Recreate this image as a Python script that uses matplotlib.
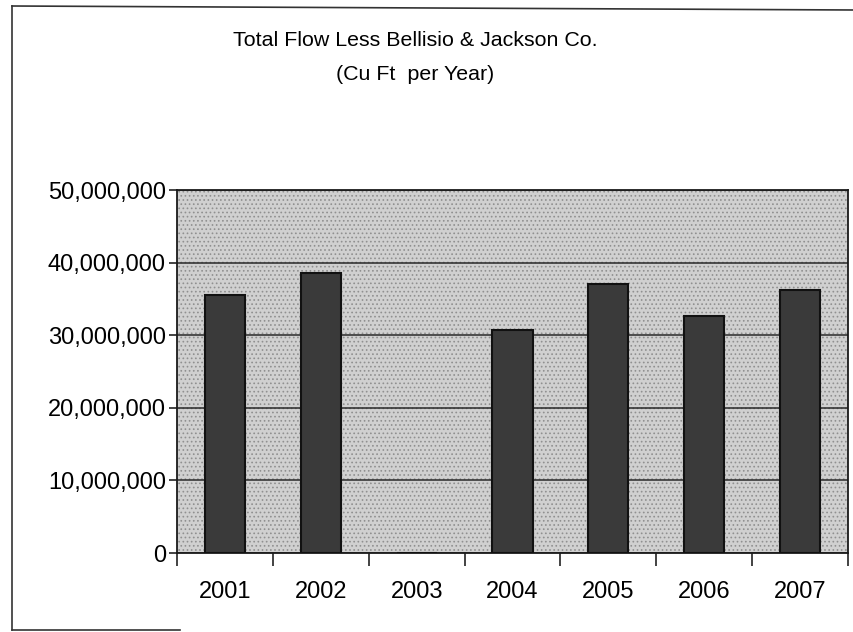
import matplotlib
matplotlib.use("Agg")
import matplotlib.pyplot as plt
from matplotlib.ticker import FuncFormatter
from matplotlib.lines import Line2D
import numpy as np

years = ["2001", "2002", "2003", "2004", "2005", "2006", "2007"]
flow = [35500000, 38600000, 0, 30700000, 37000000, 32600000, 36200000]
yticks = [0, 10000000, 20000000, 30000000, 40000000, 50000000]

plt.rcParams['font.family'] = ['Liberation Sans', 'DejaVu Sans']
plt.rcParams['hatch.color'] = '#808080'
plt.rcParams['hatch.linewidth'] = 0.7

fig = plt.figure(figsize=(8.54, 6.32), dpi=100)
ax = fig.add_axes([177/854, 1-553/632, 671/854, 363/632])

ax.set_facecolor('#d0d0d0')
ax.patch.set_hatch('....')
ax.patch.set_edgecolor('#909090')

x = np.arange(len(years))
ax.bar(x, flow, width=0.42, color='#3a3a3a', edgecolor='#111111', linewidth=1.5, zorder=3)

ax.set_xlim(-0.5, len(years) - 0.5)
ax.set_ylim(0, 50000000)
ax.set_yticks(yticks)
ax.yaxis.set_major_formatter(FuncFormatter(lambda v, p: f"{int(v):,}"))
ax.grid(axis='y', color='#2a2a2a', linewidth=1.1, zorder=1)
ax.set_axisbelow(True)

ax.set_xticks(np.arange(len(years) + 1) - 0.5, minor=False)
ax.set_xticklabels([])
ax.set_xticks(x, minor=True)
ax.set_xticklabels(years, minor=True)
ax.tick_params(axis='x', which='major', length=9, width=1.2, direction='out', color='#222222')
ax.tick_params(axis='x', which='minor', length=0, pad=20, labelsize=17)
ax.tick_params(axis='y', length=6, width=1.2, direction='out', pad=2, labelsize=17, color='#222222')

for s in ax.spines.values():
    s.set_color('#1a1a1a')
    s.set_linewidth(1.3)

fig.text(415/854, 1-40/632, "Total Flow Less Bellisio & Jackson Co.", ha='center', va='center', fontsize=15.4)
fig.text(415/854, 1-75/632, "(Cu Ft  per Year)", ha='center', va='center', fontsize=15.4)

# outer chart border (partially visible in the scan)
fig.add_artist(Line2D([12/854, 12/854], [1-6/632, 1-630/632], transform=fig.transFigure, color='#333333', linewidth=1.2))
fig.add_artist(Line2D([12/854, 854/854], [1-6/632, 1-10/632], transform=fig.transFigure, color='#333333', linewidth=1.2))
fig.add_artist(Line2D([12/854, 180/854], [1-630/632, 1-630/632], transform=fig.transFigure, color='#333333', linewidth=1.2))

fig.savefig("out.png", dpi=100)
